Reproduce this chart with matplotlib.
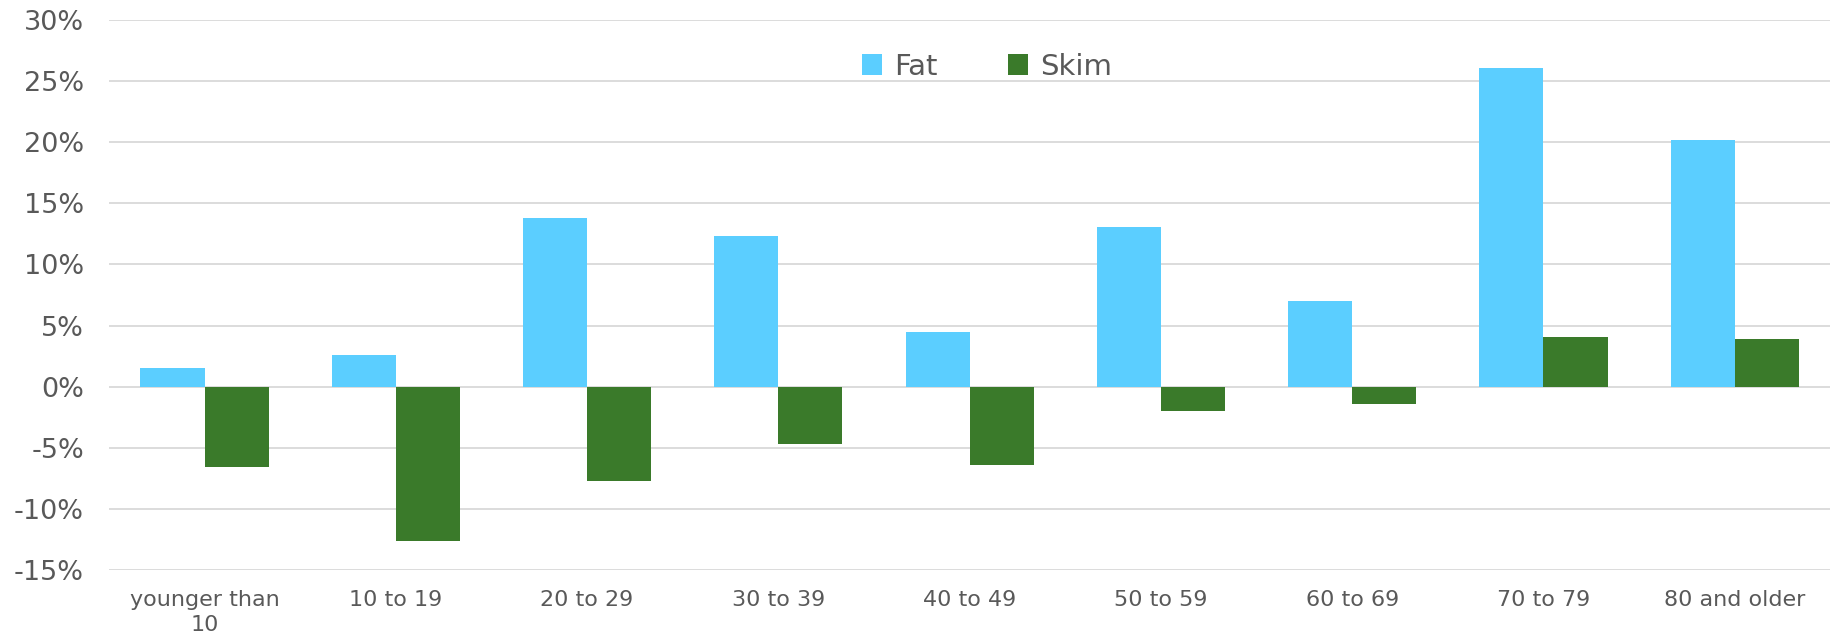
import numpy as np
import matplotlib
matplotlib.use('Agg')
import matplotlib.pyplot as plt
from matplotlib.ticker import FuncFormatter

groups = ["younger than\n10", "10 to 19", "20 to 29", "30 to 39", "40 to 49",
          "50 to 59", "60 to 69", "70 to 79", "80 and older"]
fat = [1.5, 2.6, 13.8, 12.3, 4.5, 13.1, 7.0, 26.1, 20.2]
skim = [-6.6, -12.6, -7.7, -4.7, -6.4, -2.0, -1.4, 4.1, 3.9]

plt.rcParams['font.family'] = ['DejaVu Sans']
fig = plt.figure(figsize=(18.34, 6.4), dpi=100)
ax = fig.add_axes([0.0594, 0.109, 0.9386, 0.86])

x = np.arange(len(groups))
w = 0.335
ax.bar(x - w / 2, fat, w, color='#5BCEFF', label='Fat', zorder=3)
ax.bar(x + w / 2, skim, w, color='#3A7A2A', label='Skim', zorder=3)

ax.set_xlim(-0.5, len(groups) - 0.5)
ax.set_ylim(-15, 30)
ax.set_yticks(np.arange(-15, 31, 5))
ax.yaxis.set_major_formatter(FuncFormatter(lambda v, p: f"{v:.0f}%"))
ax.set_xticks(x)
ax.set_xticklabels(groups, fontsize=16, color='#595959', linespacing=1.35)
ax.tick_params(axis='y', labelsize=19.5, labelcolor='#595959', length=0, pad=18)
ax.tick_params(axis='x', length=0, pad=14)
ax.grid(axis='y', color='#D9D9D9', linewidth=1.3, zorder=0)
for s in ax.spines.values():
    s.set_visible(False)

leg = ax.legend(loc='center', bbox_to_anchor=(0.51, 0.915), ncol=2, frameon=False,
                fontsize=21, handlelength=0.7, handleheight=0.7,
                columnspacing=2.4, handletextpad=0.4)
for t in leg.get_texts():
    t.set_color('#595959')

fig.savefig('out.png', dpi=100, facecolor='white')
